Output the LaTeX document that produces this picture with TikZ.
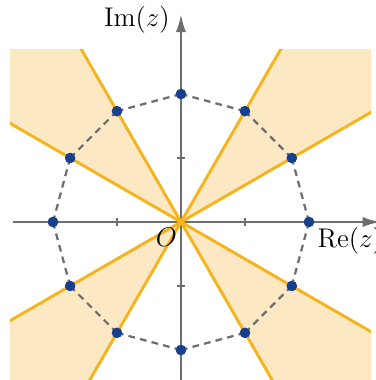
\documentclass[tikz,border=0pt]{standalone}
\usepackage{amsmath,amssymb}
\usepackage{tikz}
\usetikzlibrary{arrows.meta}
\definecolor{rayorange}{HTML}{F5B41E}
\definecolor{sectorfill}{HTML}{FDE8C4}
\definecolor{rootblue}{HTML}{173F8F}
\definecolor{axisgray}{HTML}{6E6E6E}

\begin{document}
\begin{tikzpicture}[scale=1.0,
    axis/.style={line width=1.1pt,draw=axisgray,-{Latex[length=8pt,width=4.5pt]}},
    ray/.style={line width=1.3pt,draw=rayorange,line cap=round},
    root/.style={circle,fill=rootblue,inner sep=0pt,minimum size=4.6pt},
    polygon/.style={line width=1pt,draw=axisgray,dash pattern=on 3pt off 2.3pt},
    lbl/.style={font=\fontsize{12.5}{15}\selectfont,inner sep=0pt}]
    \useasboundingbox (-2.828,-2.469) rectangle (3.047,3.469);
    \clip (-2.828,-2.469) rectangle (3.047,3.469);
    \coordinate (O) at (0,0);
    % shaded sectors and their bounding rays
    \begin{scope}
      \clip (-2.67,-3) rectangle (2.97,2.70);
      \foreach \a in {30,120,210,300} {
        \fill[sectorfill] (O) -- (\a:6) -- (\a+30:6) -- cycle;
      }
    \end{scope}
    % axes with ticks
    \draw[axis] (-2.63,0) -- (3.12,0);
    \draw[axis] (0,-2.6) -- (0,3.25);
    \foreach \t in {-1,1} {
      \draw[line width=1.1pt,axisgray] (\t,-0.065) -- (\t,0.065);
      \draw[line width=1.1pt,axisgray] (-0.065,\t) -- (0.065,\t);
    }
    \begin{scope}
      \clip (-2.67,-3) rectangle (2.97,2.70);
      \foreach \a in {30,60,120,150,210,240,300,330} {
        \coordinate (e\a) at (\a:6);
        \draw[ray] (O) -- (e\a);
      }
    \end{scope}
    % twelve roots on the circle of radius 2
    \foreach \k in {0,...,11} {
      \node[root] (p\k) at (\k*30:2) {};
    }
    \foreach \k [evaluate=\k as \n using {int(mod(\k+1,12))}] in {0,...,11} {
      \draw[polygon] (p\k.center) -- (p\n.center);
    }
    \foreach \k in {0,...,11} {
      \fill[rootblue] (p\k) circle (2.3pt);
    }
    \node[lbl,anchor=east] (im) at (-0.17,3.16) {$\mathrm{Im}(z)$};
    \node[lbl,anchor=west] (re) at (2.13,-0.30) {$\mathrm{Re}(z)$};
    \node[lbl] (o) at (-0.23,-0.24) {$O$};
  \end{tikzpicture}
\end{document}
